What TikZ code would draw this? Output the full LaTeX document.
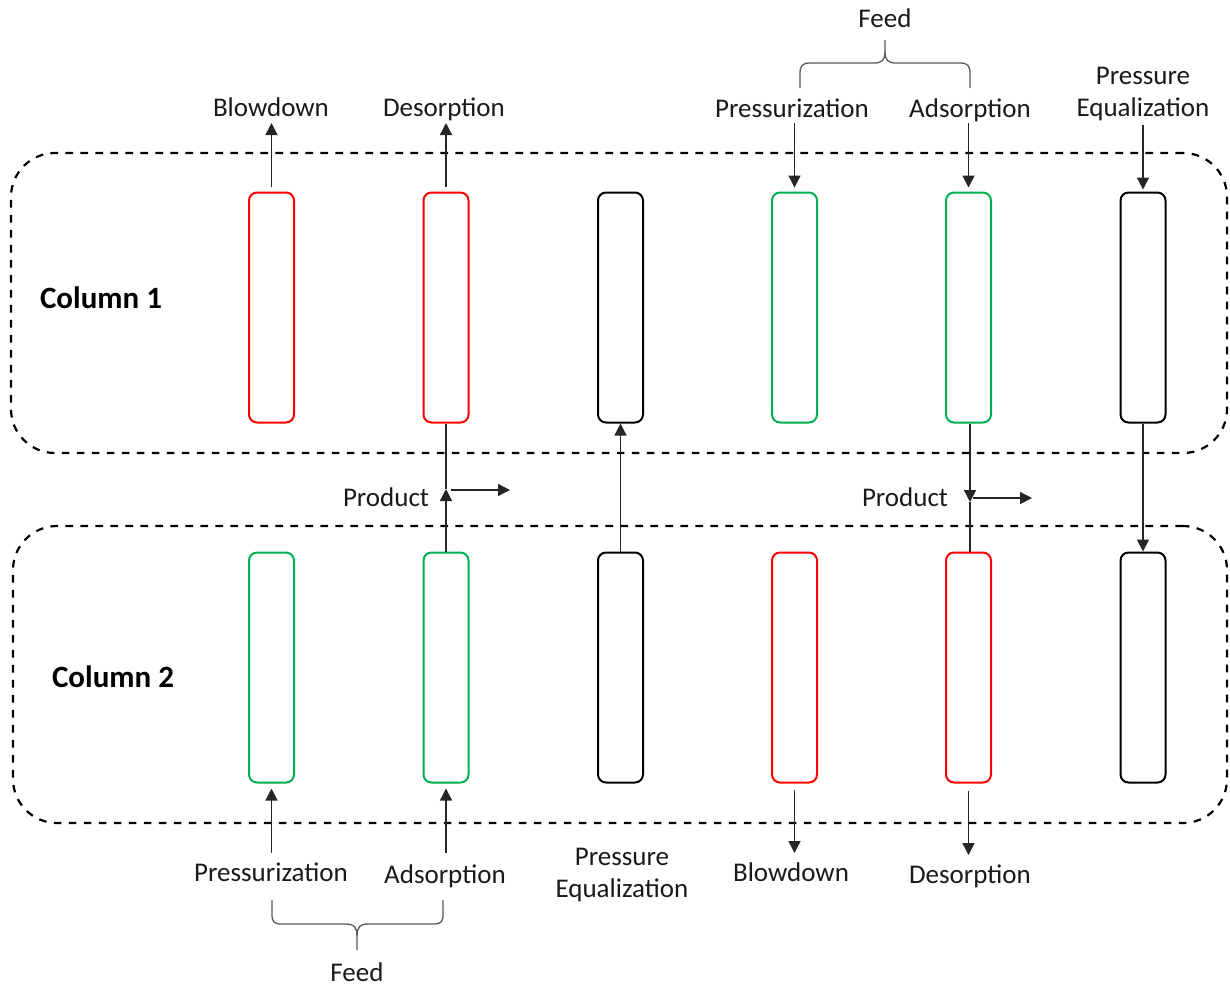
\documentclass[tikz,border=0pt]{standalone}
\usepackage{fontspec}
\setmainfont{Carlito}
\usetikzlibrary{arrows.meta}
\definecolor{offgreen}{HTML}{00B050}
\definecolor{offred}{HTML}{FF0000}
\definecolor{txt}{HTML}{1A1A1A}
\begin{document}
\begin{tikzpicture}[x=0.5pt,y=-0.5pt,
  colbox/.style={draw, rounded corners=4pt, line width=1pt, minimum width=22.5pt, minimum height=115pt, inner sep=0pt},
  panel/.style={draw, dashed, dash pattern=on 3.8pt off 3.7pt, line width=1.1pt, rounded corners=22pt, inner sep=0pt},
  lbl/.style={font=\fontsize{13.5pt}{16pt}\selectfont, text=txt, inner sep=0pt, anchor=base, align=center},
  collbl/.style={font=\fontsize{15.5pt}{18pt}\selectfont\bfseries, text=black, inner sep=0pt, anchor=base},
  arr/.style={draw=black!85, line width=0.7pt, -{Triangle[length=6pt,width=6pt]}},
  plain/.style={draw=black!85, line width=0.7pt},
  bracel/.style={draw=black!65, line width=0.65pt}
]
\useasboundingbox (0,0) rectangle (1230,987);

% panels
\node[panel, minimum width=608pt, minimum height=150pt] (p1) at (619,303) {};
\node[panel, minimum width=607pt, minimum height=148.5pt] (p2) at (620,674.5) {};

% column labels
\node[collbl] (col1) at (101,308) {Column 1};
\node[collbl] (col2) at (113,687) {Column 2};

% top boxes
\node[colbox, draw=offred]   (c1a) at (271.5,307.5) {};
\node[colbox, draw=offred]   (c1b) at (446,307.5) {};
\node[colbox, draw=black]    (c1c) at (620.5,307.5) {};
\node[colbox, draw=offgreen] (c1d) at (794.5,307.5) {};
\node[colbox, draw=offgreen] (c1e) at (968.5,307.5) {};
\node[colbox, draw=black]    (c1f) at (1143,307.5) {};
% bottom boxes
\node[colbox, draw=offgreen] (c2a) at (271.5,667.5) {};
\node[colbox, draw=offgreen] (c2b) at (446,667.5) {};
\node[colbox, draw=black]    (c2c) at (620.5,667.5) {};
\node[colbox, draw=offred]   (c2d) at (794.5,667.5) {};
\node[colbox, draw=offred]   (c2e) at (968.5,667.5) {};
\node[colbox, draw=black]    (c2f) at (1143,667.5) {};

% top labels
\node[lbl] (tbd) at (271,116) {Blowdown};
\node[lbl] (tde) at (444,116) {Desorption};
\node[lbl] (tpr) at (792,117) {Pressurization};
\node[lbl] (tad) at (970,117) {Adsorption};
\node[lbl] (tpe) at (1143,116) {Pressure\\Equalization};
\node[lbl] (tfeed) at (885,27) {Feed};

% bottom labels
\node[lbl] (bpr) at (271,881) {Pressurization};
\node[lbl] (bad) at (445,883) {Adsorption};
\node[lbl] (bpe) at (622,897) {Pressure\\Equalization};
\node[lbl] (bbd) at (791,881) {Blowdown};
\node[lbl] (bde) at (970,883) {Desorption};
\node[lbl] (bfeed) at (357,981) {Feed};

% product labels
\node[lbl] (prodl) at (386,506) {Product};
\node[lbl] (prodr) at (905,506) {Product};

% free ends
\coordinate (e1a) at (271.5,123);
\coordinate (e1b) at (446,123);
\coordinate (e1d) at (794.5,123);
\coordinate (e1e) at (968.5,123);
\coordinate (e1f) at (1143,125);
\coordinate (e2a) at (271.5,853);
\coordinate (e2b) at (446,853);
\coordinate (e2d) at (794.5,853);
\coordinate (e2e) at (968.5,855);
\coordinate (mL) at (446,489);
\coordinate (mR) at (970,502);
\coordinate (pL1) at (451,490);
\coordinate (pL2) at (510,490);
\coordinate (pR1) at (973,498);
\coordinate (pR2) at (1032,498);

% top arrows
\draw[arr, shorten <=2.5pt] (c1a.north) -- (e1a);
\draw[arr, shorten <=2.5pt] (c1b.north) -- (e1b);
\draw[arr, shorten >=2pt] (e1d) -- (c1d.north);
\draw[arr, shorten >=2pt] (e1e) -- (c1e.north);
\draw[arr, shorten >=1pt] (e1f) -- (c1f.north);
% bottom arrows
\draw[arr, shorten >=2.5pt] (e2a) -- (c2a.south);
\draw[arr, shorten >=2.5pt] (e2b) -- (c2b.south);
\draw[arr, shorten <=3pt] (c2d.south) -- (e2d);
\draw[arr, shorten <=3.5pt] (c2e.south) -- (e2e);

% middle connections
\draw[arr] (c2b.north) -- (mL);
\draw[plain] (mL) -- (c1b.south);
\draw[arr] (pL1) -- (pL2);
\draw[arr] (c2c.north) -- (c1c.south);
\draw[arr] (c1e.south -| mR) -- (mR);
\draw[plain] (mR) -- (c2e.north -| mR);
\draw[arr] (pR1) -- (pR2);
\draw[arr] (c1f.south) -- (c2f.north);

% braces
\draw[bracel] (800,88) -- (800,74) .. controls (800,66) and (802,63) .. (810,63) -- (874,63) .. controls (882,63) and (885,60) .. (885,52) -- (885,40);
\draw[bracel] (970,88) -- (970,74) .. controls (970,66) and (968,63) .. (960,63) -- (896,63) .. controls (888,63) and (885,60) .. (885,52);
\draw[bracel] (272,900) -- (272,914) .. controls (272,922) and (274,924) .. (282,924) -- (346,924) .. controls (354,924) and (357,927) .. (357,936) -- (357,950);
\draw[bracel] (443,900) -- (443,914) .. controls (443,922) and (441,924) .. (433,924) -- (368,924) .. controls (360,924) and (357,927) .. (357,936);
\end{tikzpicture}
\end{document}
